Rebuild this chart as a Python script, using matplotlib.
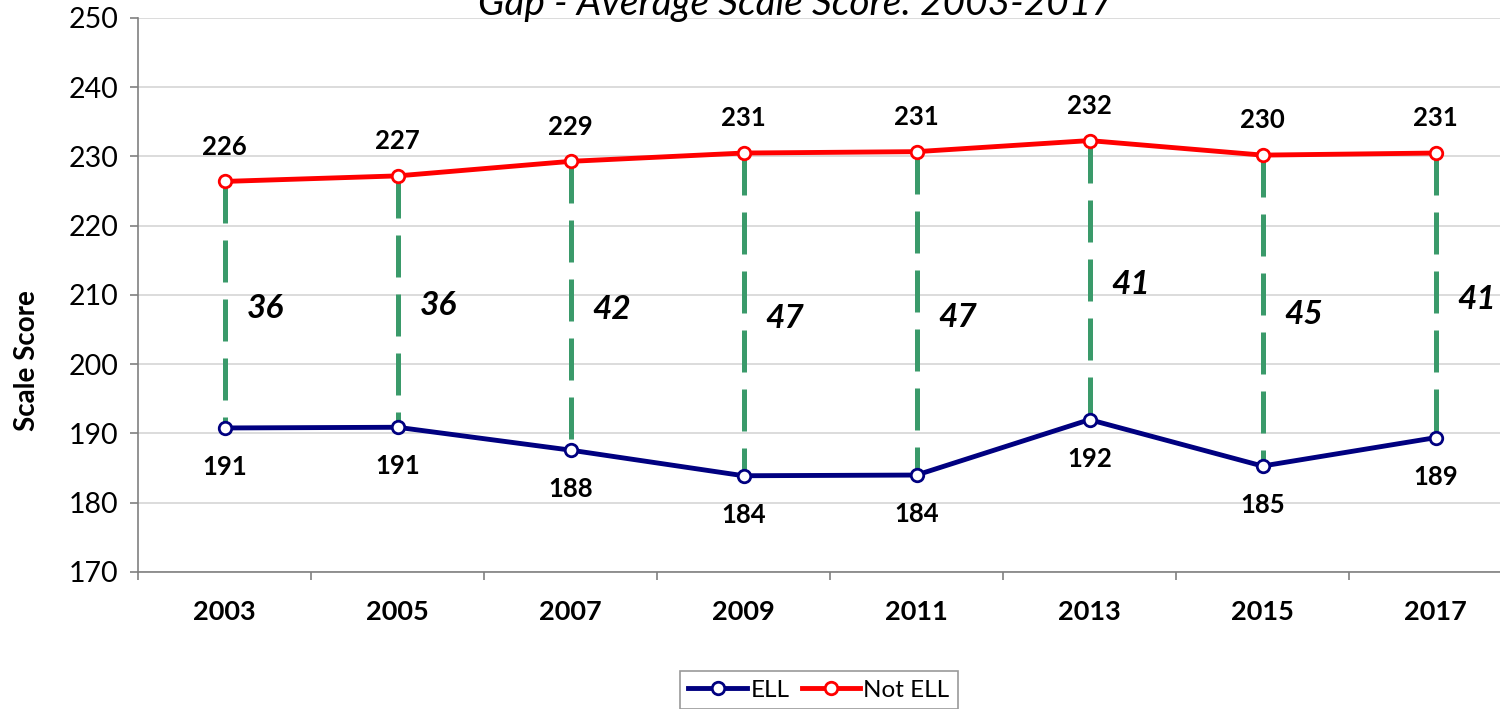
import numpy as np
import matplotlib.pyplot as plt

plt.rcParams['font.family'] = ['Lato', 'DejaVu Sans']

years = ['2003', '2005', '2007', '2009', '2011', '2013', '2015', '2017']
ell = [190.8, 190.9, 187.6, 183.9, 184.0, 192.0, 185.3, 189.4]
not_ell = [226.4, 227.2, 229.3, 230.5, 230.7, 232.3, 230.2, 230.5]
ell_labels = ['191', '191', '188', '184', '184', '192', '185', '189']
not_ell_labels = ['226', '227', '229', '231', '231', '232', '230', '231']
gaps = ['36', '36', '42', '47', '47', '41', '45', '41']

fig = plt.figure(figsize=(15, 7.09), dpi=100)
ax = fig.add_axes([138/1500, 1-572/709, (1522-138)/1500, (572-18)/709])

x = np.arange(len(years))

# gap lines
for i in x:
    ax.plot([i, i], [not_ell[i], ell[i]], color='#3a9a6a', lw=3.6,
            dashes=(8.4, 3.4), zorder=2)
    ax.annotate(gaps[i], xy=(i, (not_ell[i] + ell[i]) / 2), xytext=(16, -3),
                textcoords='offset points', ha='left', va='center',
                fontsize=24, fontweight='bold', fontstyle='italic')

ax.plot(x, ell, color='#000080', lw=3.5, marker='o', ms=9, mfc='white',
        mec='#000080', mew=2, label='ELL', zorder=3)
ax.plot(x, not_ell, color='#ff0000', lw=3.5, marker='o', ms=9, mfc='white',
        mec='#ff0000', mew=2, label='Not ELL', zorder=3)

for i in x:
    ax.annotate(not_ell_labels[i], xy=(i, not_ell[i]), xytext=(0, 25),
                textcoords='offset points', ha='center', va='center',
                fontsize=18.5, fontweight='bold')
    ax.annotate(ell_labels[i], xy=(i, ell[i]), xytext=(0, -28),
                textcoords='offset points', ha='center', va='center',
                fontsize=18.5, fontweight='bold')

ax.set_xlim(-0.5, len(years) - 0.5)
ax.set_ylim(170, 250)
ax.set_yticks(np.arange(170, 251, 10))
ax.set_xticks(x)
ax.set_xticklabels(years, fontsize=19.5, fontweight='bold')
ax.set_xticks(np.arange(-0.5, len(years), 1), minor=True)
ax.tick_params(axis='x', which='major', length=0, pad=20)
ax.tick_params(axis='x', which='minor', length=6, color='#808080', width=1.2)
ax.tick_params(axis='y', labelsize=20.5, length=6, color='#808080', width=1.2, pad=8)
ax.yaxis.grid(True, color='#d9d9d9', lw=1.3)
ax.set_axisbelow(True)
for s in ['top', 'right']:
    ax.spines[s].set_visible(False)
ax.spines['left'].set_color('#808080')
ax.spines['bottom'].set_color('#808080')
ax.spines['left'].set_linewidth(1.2)
ax.spines['bottom'].set_linewidth(1.2)

ax.set_ylabel('Scale Score', fontsize=20, fontweight='bold')
ax.yaxis.set_label_coords(-0.071, 0.381)

fig.text(796/1500, 1 - 4/709, 'Gap - Average Scale Score: 2003-2017',
         ha='center', va='center', fontsize=28, fontstyle='italic')

leg = fig.legend(loc='center', bbox_to_anchor=(819/1500, 1 - 690/709),
                 ncol=2, fontsize=17.5, frameon=True, fancybox=False,
                 edgecolor='#808080', handlelength=2.4, columnspacing=0.5,
                 handletextpad=0.15, borderpad=0.35)
leg.get_frame().set_linewidth(1.2)

fig.savefig('out.png', dpi=100)
